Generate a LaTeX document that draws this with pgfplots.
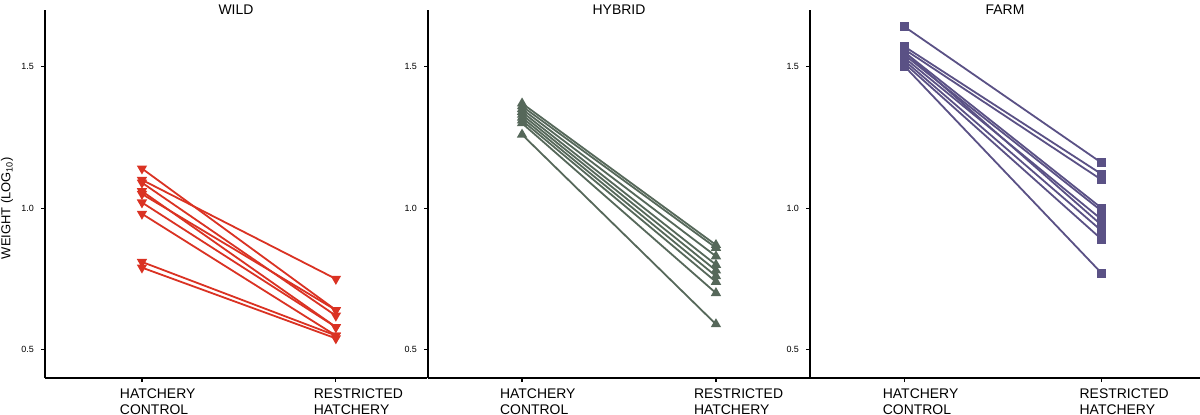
\documentclass[border=0pt]{standalone}
\usepackage{fontspec}
\setmainfont{Liberation Sans}
\usepackage{pgfplots}
\pgfplotsset{compat=1.18}

\definecolor{wildred}{RGB}{218,50,35}
\definecolor{hybgreen}{RGB}{86,104,90}
\definecolor{farmpurple}{RGB}{90,81,133}

% one line per fish: hatchery control -> restricted hatchery
\newcommand{\pair}[2]{\addplot[pairline] coordinates {(1,#1) (2,#2)};}

\pgfplotsset{
  panel/.style={
    scale only axis, width=191bp, height=184bp,
    ymin=0.4, ymax=1.7,
    axis x line*=bottom, axis y line*=left,
    axis line style={line width=0.7bp},
    xtick={1,2},
    xticklabels={{HATCHERY\\CONTROL},{RESTRICTED\\HATCHERY}},
    xticklabel style={align=left, anchor=north west, xshift=-14.5bp,
      font=\fontsize{7}{8}\selectfont},
    ytick={0.5,1.0,1.5}, yticklabels={0.5,1.0,1.5},
    yticklabel style={font=\fontsize{4.5}{5}\selectfont},
    tick align=outside, major tick length=2bp,
    tick style={black, line width=0.6bp},
    every axis title/.style={at={(axis description cs:0.5,1)}, anchor=base,
      yshift=-2.5bp, font=\fontsize{7}{8}\selectfont},
  },
  wildline/.style={draw=wildred, line width=0.9bp, mark=triangle*,
    mark size=2.1bp, mark options={rotate=180, draw=wildred, fill=wildred}},
  hybline/.style={draw=hybgreen, line width=0.9bp, mark=triangle*,
    mark size=2.1bp, mark options={draw=hybgreen, fill=hybgreen}},
  farmline/.style={draw=farmpurple, line width=0.9bp, mark=square*,
    mark size=1.8bp, mark options={draw=farmpurple, fill=farmpurple}},
}

\begin{document}
\begin{tikzpicture}
\begin{axis}[panel, at={(22.5bp,18.5bp)}, anchor=south west, title={WILD},
  xmin=0.5, xmax=2.47,
  ylabel={WEIGHT (LOG\textsubscript{10})},
  ylabel style={at={(axis description cs:-0.0995,0.462)}, anchor=center,
    font=\fontsize{6.5}{7}\selectfont},
  pairline/.style={wildline}]
\pair{1.14}{0.64}
\pair{1.10}{0.75}
\pair{1.09}{0.62}
\pair{1.06}{0.58}
\pair{1.05}{0.64}
\pair{1.02}{0.58}
\pair{0.98}{0.55}
\pair{0.81}{0.55}
\pair{0.79}{0.54}
\end{axis}

\begin{axis}[panel, at={(214bp,18.5bp)}, anchor=south west, title={HYBRID},
  xmin=0.515, xmax=2.485,
  pairline/.style={hybline}]
\pair{1.37}{0.87}
\pair{1.36}{0.86}
\pair{1.35}{0.83}
\pair{1.34}{0.80}
\pair{1.33}{0.78}
\pair{1.32}{0.76}
\pair{1.31}{0.74}
\pair{1.30}{0.70}
\pair{1.26}{0.59}
\end{axis}

\begin{axis}[panel, width=195bp, at={(405bp,18.5bp)}, anchor=south west, title={FARM},
  xmin=0.518, xmax=2.5,
  pairline/.style={farmline}]
\pair{1.64}{1.16}
\pair{1.57}{1.12}
\pair{1.56}{1.10}
\pair{1.55}{1.00}
\pair{1.54}{0.99}
\pair{1.53}{0.96}
\pair{1.55}{0.94}
\pair{1.52}{0.92}
\pair{1.51}{0.89}
\pair{1.50}{0.77}
\end{axis}

\pgfresetboundingbox
\path[use as bounding box] (0,0) rectangle (600bp,207.5bp);
\end{tikzpicture}
\end{document}
